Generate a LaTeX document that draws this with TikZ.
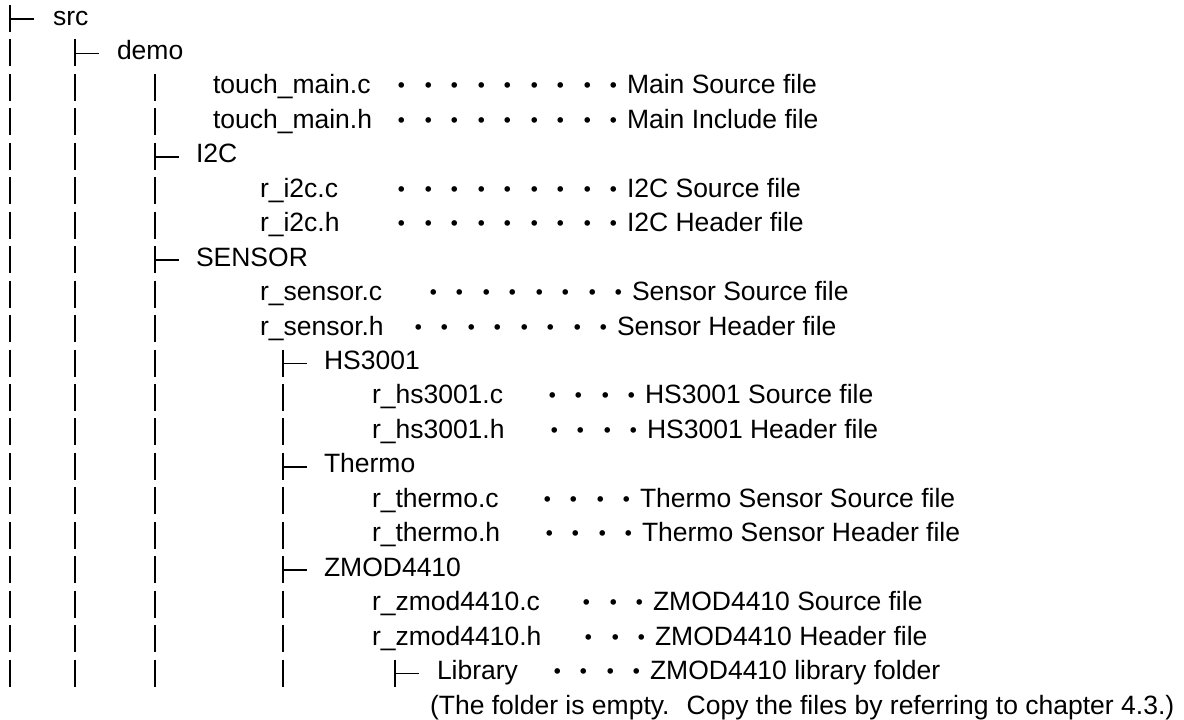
\documentclass[tikz,border=0pt]{standalone}
\usepackage{fontspec}
\setmainfont{Liberation Sans}
\newfontfamily\jpfont{Noto Sans CJK JP}
\begin{document}
\begin{tikzpicture}[x=1pt,y=-1pt]
\tikzset{
  treeline/.style={line width=1.7pt, black},
  lbl/.style={anchor=base west, inner sep=0pt, outer sep=0pt, font=\fontsize{26.5}{30}\selectfont},
  dotrow/.style={anchor=base east, inner sep=0pt, outer sep=0pt, font=\fontsize{26.5}{30}\selectfont\jpfont, yshift=-2pt},
}
\useasboundingbox (0,0) rectangle (1184,720);
% vertical tree bars
\foreach \x/\a/\b in {10/0/19, 75/1/19, 155/2/19, 283/10/19, 395/19/19} {
  \foreach \i in {\a,...,\b} {
    \draw[treeline] (\x, 5+34.45*\i) -- (\x, 32+34.45*\i);
  }
}
% branch ticks
\foreach \x/\i in {10/0, 75/1, 155/4, 155/7, 283/10, 283/13, 283/16, 395/19} {
  \draw[treeline] (\x, 19+34.45*\i) -- (\x+24, 19+34.45*\i);
}
% folders and files
\node[lbl] (src) at (53, 25) {src};
\node[lbl] (demo) at (117, 25+34.45*1) {demo};
\node[lbl] (tmc) at (213, 25+34.45*2) {touch\_main.c};
\node[lbl] (tmh) at (213, 25+34.45*3) {touch\_main.h};
\node[lbl] (i2c) at (196, 25+34.45*4) {I2C};
\node[lbl] (ric) at (260, 25+34.45*5) {r\_i2c.c};
\node[lbl] (rih) at (260, 25+34.45*6) {r\_i2c.h};
\node[lbl] (sensor) at (196, 25+34.45*7) {SENSOR};
\node[lbl] (rsc) at (260, 25+34.45*8) {r\_sensor.c};
\node[lbl] (rsh) at (260, 25+34.45*9) {r\_sensor.h};
\node[lbl] (hs) at (324, 25+34.45*10) {HS3001};
\node[lbl] (rhc) at (372, 25+34.45*11) {r\_hs3001.c};
\node[lbl] (rhh) at (372, 25+34.45*12) {r\_hs3001.h};
\node[lbl] (thermo) at (324, 25+34.45*13) {Thermo};
\node[lbl] (rtc) at (372, 25+34.45*14) {r\_thermo.c};
\node[lbl] (rth) at (372, 25+34.45*15) {r\_thermo.h};
\node[lbl] (zmod) at (324, 25+34.45*16) {ZMOD4410};
\node[lbl] (rzc) at (372, 25+34.45*17) {r\_zmod4410.c};
\node[lbl] (rzh) at (372, 25+34.45*18) {r\_zmod4410.h};
\node[lbl] (lib) at (437, 25+34.45*19) {Library};
\node[lbl] (note) at (430, 25+34.45*20) {(The folder is empty.~ Copy the files by referring to chapter 4.3.)};
% descriptions
\node[lbl] (d1) at (627, 25+34.45*2) {Main Source file};
\node[lbl] (d2) at (627, 25+34.45*3) {Main Include file};
\node[lbl] (d3) at (627, 25+34.45*5) {I2C Source file};
\node[lbl] (d4) at (627, 25+34.45*6) {I2C Header file};
\node[lbl] (d5) at (632, 25+34.45*8) {Sensor Source file};
\node[lbl] (d6) at (617, 25+34.45*9) {Sensor Header file};
\node[lbl] (d7) at (645, 25+34.45*11) {HS3001 Source file};
\node[lbl] (d8) at (647, 25+34.45*12) {HS3001 Header file};
\node[lbl] (d9) at (640, 25+34.45*14) {Thermo Sensor Source file};
\node[lbl] (d10) at (642, 25+34.45*15) {Thermo Sensor Header file};
\node[lbl] (d11) at (653, 25+34.45*17) {ZMOD4410 Source file};
\node[lbl] (d12) at (655, 25+34.45*18) {ZMOD4410 Header file};
\node[lbl] (d13) at (650, 25+34.45*19) {ZMOD4410 library folder};
% dot leaders
\node[dotrow] (p1) at (d1.base west) {・・・・・・・・・};
\node[dotrow] (p2) at (d2.base west) {・・・・・・・・・};
\node[dotrow] (p3) at (d3.base west) {・・・・・・・・・};
\node[dotrow] (p4) at (d4.base west) {・・・・・・・・・};
\node[dotrow] (p5) at (d5.base west) {・・・・・・・・};
\node[dotrow] (p6) at (d6.base west) {・・・・・・・・};
\node[dotrow] (p7) at (d7.base west) {・・・・};
\node[dotrow] (p8) at (d8.base west) {・・・・};
\node[dotrow] (p9) at (d9.base west) {・・・・};
\node[dotrow] (p10) at (d10.base west) {・・・・};
\node[dotrow] (p11) at (d11.base west) {・・・};
\node[dotrow] (p12) at (d12.base west) {・・・};
\node[dotrow] (p13) at (d13.base west) {・・・・};
\end{tikzpicture}
\end{document}
